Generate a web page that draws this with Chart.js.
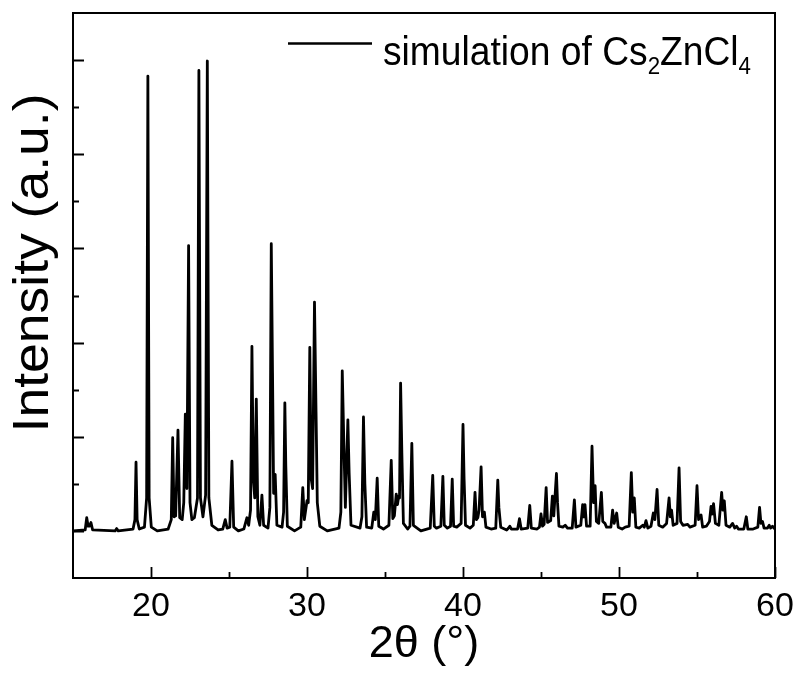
<!DOCTYPE html>
<html>
<head>
<meta charset="utf-8">
<script src="https://cdn.jsdelivr.net/npm/chart.js@4.4.0/dist/chart.umd.min.js"></script>
<style>
  html, body { margin: 0; padding: 0; background: #fff; }
</style>
</head>
<body>
<canvas id="chart1" width="798" height="674"></canvas>
<script>
// simulated XRD pattern, 2theta (deg) and intensity (a.u.)
const twoTheta = [
  15.0, 15.78, 15.88, 15.97, 16.05, 16.15, 16.26,
  17.7, 17.8, 17.9, 18.85, 18.97, 19.04, 19.11, 19.25,
  19.58, 19.72, 19.8, 19.88, 20.02, 20.4,
  21.1, 21.3, 21.39, 21.48, 21.58, 21.73, 21.84,
  22.0, 22.1, 22.2, 22.3, 22.41, 22.5, 22.62,
  22.78, 22.98, 23.07, 23.17, 23.33, 23.5, 23.61, 23.71, 23.9,
  24.3, 24.6, 24.76, 24.88, 25.05, 25.19, 25.3, 25.6,
  25.95, 26.15, 26.26, 26.38, 26.47, 26.56, 26.65, 26.75, 26.85,
  26.98, 27.11, 27.22, 27.5, 27.62, 27.71, 27.79, 27.86, 27.96, 28.07,
  28.4, 28.5, 28.58, 28.64, 28.74, 29.2,
  29.6, 29.73, 29.83, 30.0, 30.08, 30.18, 30.27, 30.36, 30.48, 30.58, 30.66, 30.82, 31.3,
  32.05, 32.17, 32.26, 32.36, 32.46, 32.62, 32.7, 32.82,
  33.4, 33.52, 33.62, 33.71, 33.82, 34.15, 34.28, 34.38, 34.5, 34.6, 34.9,
  35.25, 35.4, 35.5, 35.6, 35.72, 35.8, 35.88, 35.93, 36.0, 36.08, 36.18,
  36.45, 36.6, 36.72, 36.82, 37.3, 37.9, 38.06, 38.16, 38.3,
  38.58, 38.71, 38.8, 39.0, 39.2, 39.31, 39.4, 39.6,
  39.88, 40.0, 40.07, 40.16, 40.45, 40.66, 40.77, 40.86, 40.95,
  41.03, 41.16, 41.25, 41.37, 41.47, 41.8, 42.1, 42.23, 42.3, 42.42,
  42.8, 42.92, 43.0, 43.1, 43.5, 43.62, 43.73, 44.15, 44.28, 44.38,
  44.75, 44.9, 45.0, 45.1, 45.2, 45.33, 45.42, 45.62, 45.73, 45.82, 45.99, 46.06, 46.15,
  46.4, 46.55, 46.7, 47.0, 47.14, 47.24, 47.55, 47.67, 47.74, 47.82, 47.92,
  48.15, 48.27, 48.37, 48.47, 48.55, 48.7, 48.87, 48.96, 49.1, 49.2,
  49.48, 49.59, 49.69, 49.85, 49.95, 50.2, 50.4, 50.65, 50.79, 50.88, 50.98, 51.08,
  51.3, 51.52, 51.62, 51.73, 51.85, 52.05, 52.2, 52.3, 52.44, 52.55, 52.8,
  53.05, 53.21, 53.29, 53.37, 53.47, 53.72, 53.85, 53.95, 54.1, 54.4, 54.55,
  54.88, 55.0, 55.1, 55.26, 55.36, 55.6, 55.8, 55.9, 55.98, 56.06, 56.18,
  56.4, 56.58, 56.66, 56.75, 56.86, 57.1, 57.28, 57.42, 57.54, 57.65,
  58.0, 58.16, 58.26, 58.6, 58.9, 59.01, 59.1, 59.2, 59.3, 59.52, 59.63, 59.72, 59.84, 60.0
];
const intensity = [
  0.0, 0.01, 0.14, 0.05, 0.05, 0.09, 0.01,
  0.0, 0.025, 0.0, 0.02, 0.12, 0.73, 0.12, 0.02,
  0.04, 0.35, 4.83, 0.35, 0.04, 0.0,
  0.02, 0.12, 0.99, 0.15, 0.16, 1.07, 0.14,
  0.12, 0.3, 1.24, 0.45, 3.03, 0.3, 0.12,
  0.14, 0.35, 4.89, 0.35, 0.15, 0.38, 4.99, 0.35, 0.06,
  0.01, 0.02, 0.12, 0.03, 0.04, 0.74, 0.04, 0.0,
  0.02, 0.14, 0.06, 0.22, 1.96, 0.55, 0.35, 1.4, 0.15,
  0.06, 0.38, 0.06, 0.03, 0.25, 3.05, 1.68, 0.4, 0.6, 0.06,
  0.04, 0.2, 1.36, 0.7, 0.05, 0.0,
  0.04, 0.46, 0.12, 0.32, 0.3, 1.95, 0.55, 0.45, 2.43, 1.26, 0.3, 0.05, 0.0,
  0.03, 0.2, 1.7, 0.94, 0.25, 1.18, 0.62, 0.06,
  0.03, 0.15, 1.21, 0.5, 0.04, 0.03, 0.2, 0.12, 0.56, 0.05, 0.02,
  0.06, 0.75, 0.13, 0.16, 0.39, 0.28, 0.37, 0.35, 1.57, 0.83, 0.08,
  0.02, 0.05, 0.93, 0.06, 0.0, 0.03, 0.59, 0.05, 0.03,
  0.05, 0.58, 0.06, 0.03, 0.05, 0.55, 0.05, 0.04,
  0.08, 1.13, 0.55, 0.06, 0.03, 0.06, 0.41, 0.12, 0.14,
  0.22, 0.68, 0.15, 0.2, 0.04, 0.02, 0.03, 0.54, 0.25, 0.04,
  0.01, 0.03, 0.05, 0.02, 0.02, 0.13, 0.02, 0.03, 0.27, 0.03,
  0.02, 0.04, 0.18, 0.05, 0.07, 0.46, 0.09, 0.11, 0.37, 0.16, 0.61, 0.3, 0.05,
  0.04, 0.06, 0.03, 0.03, 0.33, 0.04, 0.06, 0.28, 0.15, 0.28, 0.05,
  0.05, 0.9, 0.3, 0.48, 0.1, 0.08, 0.41, 0.1, 0.08, 0.04,
  0.04, 0.22, 0.08, 0.19, 0.04, 0.02, 0.04, 0.05, 0.62, 0.2, 0.35, 0.04,
  0.03, 0.06, 0.04, 0.11, 0.03, 0.05, 0.19, 0.12, 0.44, 0.06, 0.04,
  0.08, 0.35, 0.15, 0.22, 0.06, 0.08, 0.67, 0.1, 0.06, 0.07, 0.04,
  0.06, 0.48, 0.12, 0.17, 0.04, 0.05, 0.1, 0.26, 0.18, 0.29, 0.08,
  0.06, 0.41, 0.22, 0.32, 0.06, 0.04, 0.08, 0.03, 0.05, 0.02,
  0.02, 0.15, 0.02, 0.02, 0.04, 0.25, 0.08, 0.1, 0.03, 0.03, 0.06, 0.03, 0.05, 0.02
];

// axis ticks (y labels are hidden in the original)
const xMajorTicks = [20, 30, 40, 50, 60];
const xMinorTicks = [25, 35, 45, 55];
const yMajorTicks = [0, 1, 2, 3, 4, 5];
const yMinorTicks = [0.5, 1.5, 2.5, 3.5, 4.5];

const xTitle = '2θ (°)';
const yTitle = 'Intensity (a.u.)';
// legend text, pieces flagged true are subscripts
const legendParts = [['simulation of Cs', false], ['2', true], ['ZnCl', false], ['4', true]];

const fontFamily = '"Liberation Sans", Arial, Helvetica, sans-serif';

const points = twoTheta.map((t, i) => ({ x: t, y: intensity[i] }));

// box, inward tick marks, y title and the legend
const framePlugin = {
    id: 'frame',
    afterDatasetsDraw(chart) {
        const { ctx, chartArea: a, scales: { x, y } } = chart;
        ctx.save();
        ctx.strokeStyle = '#000';
        ctx.lineWidth = 2;
        ctx.strokeRect(a.left, a.top, a.right - a.left, a.bottom - a.top);

        ctx.lineWidth = 1.8;
        ctx.beginPath();
        xMajorTicks.forEach(v => {
            const px = Math.round(x.getPixelForValue(v)) + 0.5;
            ctx.moveTo(px, a.bottom); ctx.lineTo(px, a.bottom - 11);
        });
        xMinorTicks.forEach(v => {
            const px = Math.round(x.getPixelForValue(v)) + 0.5;
            ctx.moveTo(px, a.bottom); ctx.lineTo(px, a.bottom - 6);
        });
        yMajorTicks.forEach(v => {
            const py = Math.round(y.getPixelForValue(v)) + 0.5;
            ctx.moveTo(a.left, py); ctx.lineTo(a.left + 11, py);
        });
        yMinorTicks.forEach(v => {
            const py = Math.round(y.getPixelForValue(v)) + 0.5;
            ctx.moveTo(a.left, py); ctx.lineTo(a.left + 6, py);
        });
        ctx.stroke();

        // y title, set a bit above centre like the original
        ctx.save();
        ctx.fillStyle = '#000';
        ctx.font = '50px ' + fontFamily;
        ctx.textAlign = 'center';
        ctx.textBaseline = 'middle';
        ctx.translate(34, 263);
        ctx.rotate(-Math.PI / 2);
        ctx.scale(1.07, 1);
        ctx.fillText(yTitle, 0, 0);
        ctx.restore();

        // legend
        ctx.lineWidth = 2.5;
        ctx.beginPath();
        ctx.moveTo(288, 43.5);
        ctx.lineTo(372, 43.5);
        ctx.stroke();

        ctx.fillStyle = '#000';
        ctx.textBaseline = 'alphabetic';
        ctx.translate(383, 65);
        ctx.scale(0.93, 1);
        let cx = 0;
        legendParts.forEach(([txt, sub]) => {
            ctx.font = (sub ? 24 : 40) + 'px ' + fontFamily;
            ctx.fillText(txt, cx, sub ? 9 : 0);
            cx += ctx.measureText(txt).width;
        });
        ctx.restore();
    }
};

const ctx = document.getElementById('chart1').getContext('2d');
const chart1 = new Chart(ctx, {
    type: 'line',
    data: {
        datasets: [{
            label: 'simulation of Cs2ZnCl4',
            data: points,
            borderColor: '#000',
            borderWidth: 2.8,
            borderJoinStyle: 'round',
            pointRadius: 0,
            tension: 0,
            fill: false
        }]
    },
    options: {
        responsive: false,
        animation: false,
        devicePixelRatio: 1,
        layout: { padding: { top: 13, right: 23, left: 0, bottom: 0 } },
        plugins: {
            legend: { display: false },
            tooltip: { enabled: false }
        },
        scales: {
            x: {
                type: 'linear',
                min: 15,
                max: 60,
                afterBuildTicks: s => { s.ticks = xMajorTicks.map(v => ({ value: v })); },
                afterFit: s => { s.height = 96; s.paddingLeft = 0; s.paddingRight = 0; },
                grid: { display: false, drawTicks: false },
                border: { display: false },
                ticks: {
                    color: '#000',
                    padding: 8,
                    maxRotation: 0,
                    autoSkip: false,
                    font: { family: fontFamily, size: 34 }
                },
                title: {
                    display: true,
                    text: xTitle,
                    color: '#000',
                    font: { family: fontFamily, size: 45, lineHeight: 1 },
                    padding: { top: 0, bottom: 7 }
                }
            },
            y: {
                type: 'linear',
                min: -0.5,
                max: 5.5,
                afterFit: s => { s.width = 73; },
                grid: { display: false, drawTicks: false },
                border: { display: false },
                ticks: { display: false },
                title: { display: false }
            }
        }
    },
    plugins: [framePlugin]
});
</script>
</body>
</html>
